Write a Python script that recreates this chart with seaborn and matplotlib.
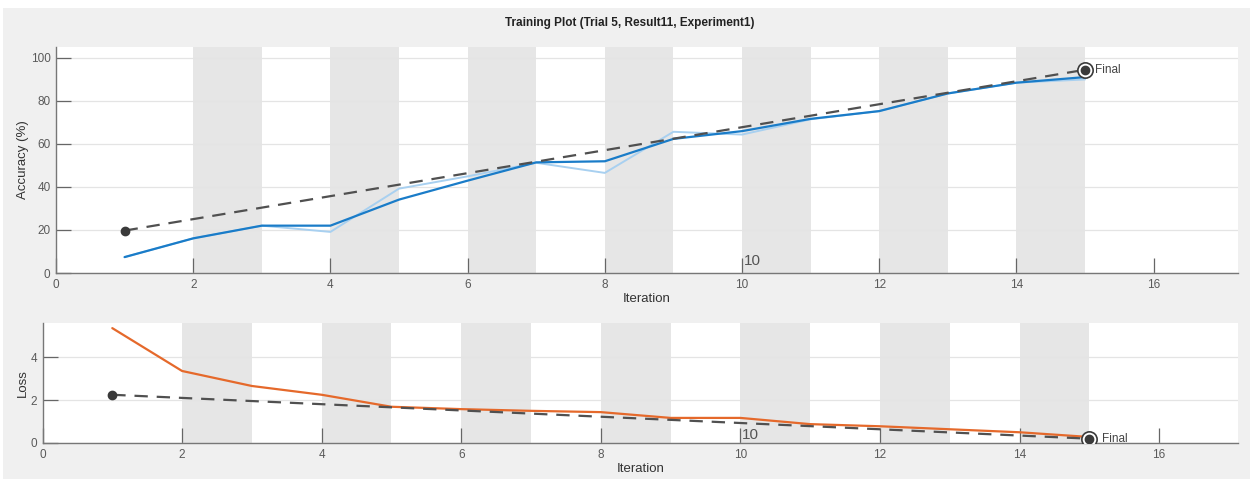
import matplotlib
matplotlib.use("Agg")
import matplotlib.pyplot as plt
from matplotlib.patches import Rectangle
import numpy as np
import pandas as pd
import seaborn as sns

# Per-iteration training metrics
iterations = [1, 2, 3, 4, 5, 6, 7, 8, 9, 10, 11, 12, 13, 14, 15]
accuracy_raw = [7.4, 16.1, 22.0, 19.1, 39.2, 44.9, 51.2, 46.5, 65.6, 64.3, 71.4, 75.2, 83.4, 88.4, 89.9]
accuracy_smooth = [7.4, 16.1, 22.0, 22.0, 34.1, 42.9, 51.4, 51.9, 62.3, 65.9, 71.6, 75.2, 83.4, 88.4, 91.0]
loss_values = [5.36, 3.36, 2.66, 2.25, 1.69, 1.58, 1.50, 1.44, 1.17, 1.17, 0.88, 0.78, 0.64, 0.50, 0.28]

# Trend between first and final iterations
acc_trend_x = [1, 15]
acc_trend_y = [19.7, 94.4]
loss_trend_x = [1, 15]
loss_trend_y = [2.25, 0.20]

x_ticks = [0, 2, 4, 6, 8, 10, 12, 14, 16]
acc_ticks = [0, 20, 40, 60, 80, 100]
loss_ticks = [0, 2, 4]
band_starts = [2, 4, 6, 8, 10, 12, 14]

sns.set_theme(style="white")
plt.rcParams["font.family"] = ["Liberation Sans", "DejaVu Sans"]

BLUE = "#1a7cc8"
LIGHT_BLUE = "#a8d0f0"
ORANGE = "#e5692b"
DARK = "#3a3a3a"
BAND = "#e6e6e6"
TICK_COL = "#5a5a5a"

fig = plt.figure(figsize=(12.5, 4.79), dpi=100, facecolor="white")
fig.patches.append(Rectangle((3 / 1250, 0), 1, 1 - 8 / 479, transform=fig.transFigure,
                             facecolor="#f0f0f0", edgecolor="none", zorder=-10))

ax1 = fig.add_axes([0.0448, 0.430, 0.9456, 0.472])
ax2 = fig.add_axes([0.0340, 0.0752, 0.9564, 0.2505])

acc_df = pd.DataFrame({"Iteration": iterations, "raw": accuracy_raw, "smooth": accuracy_smooth})
loss_df = pd.DataFrame({"Iteration": iterations, "loss": loss_values})


def style_axes(ax, ylim, yticks, xlim):
    ax.set_facecolor("white")
    for s in band_starts:
        ax.axvspan(s, s + 1, color=BAND, lw=0, zorder=0)
    ax.set_xlim(*xlim)
    ax.set_ylim(*ylim)
    ax.set_xticks(x_ticks)
    ax.set_yticks(yticks)
    ax.yaxis.grid(True, color="#e4e4e4", lw=0.9, zorder=0.5)
    ax.xaxis.grid(False)
    ax.set_axisbelow(True)
    for side in ("top", "right"):
        ax.spines[side].set_visible(False)
    for side in ("left", "bottom"):
        ax.spines[side].set_color("#777777")
        ax.spines[side].set_linewidth(1.0)
    ax.tick_params(axis="both", direction="in", length=11, width=0.9, color="#666666",
                   labelsize=8.5, labelcolor=TICK_COL, pad=4, left=True, bottom=True)


style_axes(ax1, (0, 105), acc_ticks, (0, 17.23))
style_axes(ax2, (0, 5.6), loss_ticks, (0, 17.13))

# Accuracy panel
sns.lineplot(data=acc_df, x="Iteration", y="raw", ax=ax1, color=LIGHT_BLUE, lw=1.4, zorder=2)
sns.lineplot(data=acc_df, x="Iteration", y="smooth", ax=ax1, color=BLUE, lw=1.6, zorder=3)
ax1.plot(acc_trend_x, acc_trend_y, ls=(0, (6, 4)), color="#505050", lw=1.6, zorder=4)
ax1.plot(acc_trend_x[0], acc_trend_y[0], "o", color=DARK, ms=6, zorder=5)
ax1.plot(acc_trend_x[1], acc_trend_y[1], "o", mfc="white", mec=DARK, mew=1.2, ms=11, zorder=5)
ax1.plot(acc_trend_x[1], acc_trend_y[1], "o", color=DARK, ms=6, zorder=6)
ax1.text(acc_trend_x[1] + 0.15, acc_trend_y[1], "Final", fontsize=8.5, color="#444444",
         va="center", ha="left")
ax1.text(10.02, 2.5, "10", fontsize=11, color="#555555", ha="left", va="bottom")
ax1.set_xlabel("Iteration", fontsize=9.5, color="#333333", labelpad=2)
ax1.set_ylabel("Accuracy (%)", fontsize=9.5, color="#333333", labelpad=1)
ax1.set_title("Training Plot (Trial 5, Result11, Experiment1)", fontsize=8.5,
              fontweight="bold", color="#222222", pad=15, x=0.485)

# Loss panel
sns.lineplot(data=loss_df, x="Iteration", y="loss", ax=ax2, color=ORANGE, lw=1.6, zorder=3)
ax2.plot(loss_trend_x, loss_trend_y, ls=(0, (6, 4)), color="#505050", lw=1.6, zorder=4)
ax2.plot(loss_trend_x[0], loss_trend_y[0], "o", color=DARK, ms=6, zorder=5)
ax2.plot(loss_trend_x[1], loss_trend_y[1], "o", mfc="white", mec=DARK, mew=1.2, ms=11, zorder=5)
ax2.plot(loss_trend_x[1], loss_trend_y[1], "o", color=DARK, ms=6, zorder=6)
ax2.text(loss_trend_x[1] + 0.18, loss_trend_y[1], "Final", fontsize=8.5, color="#444444",
         va="center", ha="left")
ax2.text(10.02, 0.05, "10", fontsize=11, color="#555555", ha="left", va="bottom")
ax2.set_xlabel("Iteration", fontsize=9.5, color="#333333", labelpad=2)
ax2.set_ylabel("Loss", fontsize=9.5, color="#333333", labelpad=1)

fig.savefig("out.png", dpi=100, facecolor=fig.get_facecolor())
